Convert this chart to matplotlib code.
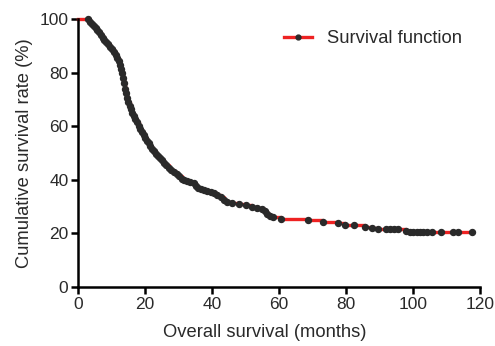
import matplotlib
matplotlib.use("Agg")
import matplotlib.pyplot as plt
from matplotlib.lines import Line2D

plt.rcParams['font.family'] = ['Liberation Sans', 'DejaVu Sans']

months = [0, 3.0, 3.5, 4.0, 4.6, 5.2, 5.6, 6.2, 6.8, 7.4,
          7.8, 8.4, 9.0, 9.6, 10.2, 10.8, 11.3, 11.7, 12.1, 12.5,
          12.8, 13.1, 13.4, 13.7, 14.0, 14.3, 14.6, 15.0, 15.4, 15.8,
          16.2, 16.6, 17.0, 17.5, 18.0, 18.5, 19.0, 19.5, 20.0, 20.5,
          21.0, 21.5, 22.0, 22.6, 23.2, 23.8, 24.4, 25.0, 25.6, 26.3,
          27.0, 27.8, 28.6, 29.4, 30.2, 31.0, 31.6, 32.5, 33.5, 34.5,
          35.2, 35.8, 36.6, 37.5, 38.5, 39.5, 40.5, 41.5, 42.5, 43.5,
          44.5, 46.0, 48.0, 50.0, 52.0, 53.5, 55.0, 55.8, 56.5, 57.2,
          58.3, 60.5, 68.5, 73.0, 77.5, 79.7, 82.2, 85.7, 87.7, 89.6,
          92.0, 93.2, 94.4, 95.6, 98.0, 99.0, 100.0, 101.0, 102.0, 103.0,
          104.0, 105.6, 108.2, 112.0, 113.5, 117.5]

survival = [100, 100, 99.0, 98.3, 97.5, 96.5, 95.8, 95.0, 94.0, 93.0,
            92.2, 91.3, 90.5, 89.6, 88.7, 87.6, 86.4, 85.3, 84.3, 83.0,
            81.5, 79.8, 78.0, 76.0, 74.0, 72.2, 70.5, 69.0, 67.6, 66.3,
            65.0, 63.8, 62.6, 61.4, 60.2, 59.0, 57.8, 56.7, 55.6, 54.6,
            53.6, 52.6, 51.6, 50.6, 49.7, 48.8, 48.0, 47.2, 46.3, 45.4,
            44.5, 43.8, 43.0, 42.2, 41.2, 40.3, 39.8, 39.5, 39.3, 38.8,
            37.8, 37.0, 36.6, 36.2, 35.8, 35.4, 34.9, 34.3, 33.5, 32.6,
            31.8, 31.2, 30.8, 30.4, 29.9, 29.4, 28.9, 28.2, 27.3, 26.5,
            26.0, 25.4, 24.9, 24.3, 23.7, 23.2, 23.0, 22.4, 21.8, 21.6,
            21.6, 21.6, 21.6, 21.6, 20.8, 20.6, 20.6, 20.6, 20.6, 20.6,
            20.6, 20.6, 20.6, 20.6, 20.6, 20.6]

x_ticks = [0, 20, 40, 60, 80, 100, 120]
y_ticks = [0, 20, 40, 60, 80, 100]

text_color = '#2a2a2a'
line_red = '#ee2222'
marker_dark = '#2a2a2a'

fig = plt.figure(figsize=(4.95, 3.46), dpi=100)
ax = fig.add_axes([0.158, 0.171, 0.812, 0.774])

ax.plot(months, survival, drawstyle='steps-post', color=line_red, lw=2.4,
        clip_on=False, zorder=2)
ax.plot(months[1:], survival[1:], ls='none', marker='o', ms=4.3,
        color=marker_dark, clip_on=False, zorder=3)

h = Line2D([0], [0], color=line_red, lw=2.4, marker='o', ms=3.5,
           markerfacecolor=marker_dark, markeredgecolor=marker_dark)
ax.legend([h], ['Survival function'], loc='upper right', frameon=False,
          fontsize=13.2, handlelength=1.5, handletextpad=0.8,
          borderaxespad=0.0, bbox_to_anchor=(0.972, 0.985),
          labelcolor=text_color)

ax.set_xlim(0, 120)
ax.set_ylim(0, 100)
ax.set_xticks(x_ticks)
ax.set_yticks(y_ticks)
ax.tick_params(direction='out', length=5, width=1.8, labelsize=12.5, pad=2,
               colors='black', labelcolor=text_color)
for s in ['top', 'right']:
    ax.spines[s].set_visible(False)
for s in ['left', 'bottom']:
    ax.spines[s].set_linewidth(1.8)
    ax.spines[s].set_color('black')

ax.set_xlabel('Overall survival (months)', fontsize=13.2, color=text_color)
ax.xaxis.set_label_coords(0.463, -0.14)
ax.set_ylabel('Cumulative survival rate (%)', fontsize=13.2, color=text_color, labelpad=5)

fig.savefig('out.png', dpi=100)
